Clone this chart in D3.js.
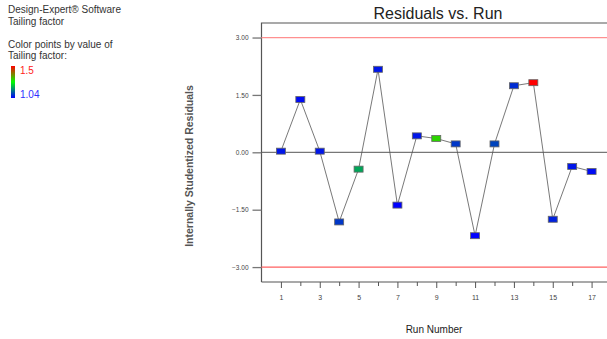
<!doctype html>
<html lang="en">
<head>
<meta charset="utf-8">
<title>Residuals vs. Run</title>
<style>
  body { margin: 0; background: #fff; }
  svg { display: block; font-family: "Liberation Sans", Arial, sans-serif; }
</style>
</head>
<body>
<svg width="607" height="339"></svg>
<script src="https://d3js.org/d3.v7.min.js"></script>
<script>
// run numbers, residuals and the tailing factor used to colour each point
var runs = [1, 2, 3, 4, 5, 6, 7, 8, 9, 10, 11, 12, 13, 14, 15, 16, 17];
var residuals = [0.03, 1.38, 0.03, -1.82, -0.44, 2.17, -1.38, 0.43, 0.36, 0.22, -2.18, 0.22, 1.74, 1.82, -1.75, -0.37, -0.50];
var tailing = [1.06, 1.05, 1.06, 1.09, 1.19, 1.06, 1.04, 1.06, 1.31, 1.09, 1.04, 1.10, 1.08, 1.50, 1.07, 1.06, 1.05];
var yTicks = [-3, -1.5, 0, 1.5, 3];
var xLabels = [1, 3, 5, 7, 9, 11, 13, 15, 17];
var limits = [-3, 3];
var legendLines = ["Design-Expert\u00ae Software", "Tailing factor", "", "Color points by value of", "Tailing factor:"];

var svg = d3.select("svg");

var x = d3.scaleLinear().domain([0, 18]).range([261.5, 611]);
var y = d3.scaleLinear().domain([-3.39, 3.38]).range([282, 23]);
var color = d3.scaleLinear().domain([1.04, 1.27, 1.5]).range(["#0000ff", "#00ff00", "#ff0000"]);

// legend at top left
svg.append("g").selectAll("text")
    .data(legendLines)
    .enter().append("text")
    .attr("x", 8)
    .attr("y", function(d, i) { return 13 + i * 11.5; })
    .attr("font-size", 10)
    .attr("fill", "#333")
    .text(function(d) { return d; });

var grad = svg.append("defs").append("linearGradient")
    .attr("id", "tf").attr("x1", 0).attr("y1", 0).attr("x2", 0).attr("y2", 1);
grad.append("stop").attr("offset", "0%").attr("stop-color", color(1.5));
grad.append("stop").attr("offset", "50%").attr("stop-color", color(1.27));
grad.append("stop").attr("offset", "100%").attr("stop-color", color(1.04));
svg.append("rect").attr("x", 11).attr("y", 66).attr("width", 4).attr("height", 32)
    .attr("fill", "url(#tf)");
svg.append("text").attr("x", 20).attr("y", 74).attr("font-size", 10).attr("fill", "#ff2020").text("1.5");
svg.append("text").attr("x", 20).attr("y", 98).attr("font-size", 10).attr("fill", "#3030ff").text("1.04");

// title
svg.append("text").attr("x", 438).attr("y", 19).attr("text-anchor", "middle")
    .attr("font-size", 16).attr("fill", "#222").text("Residuals vs. Run");

// frame: top and left lines
svg.append("path")
    .attr("d", "M607," + y.range()[1] + "H" + x.range()[0] + "V" + y.range()[0])
    .attr("fill", "none").attr("stroke", "#555").attr("stroke-width", 1.2);

// x axis
var xAxis = svg.append("g")
    .attr("transform", "translate(0," + y.range()[0] + ")")
    .call(d3.axisBottom(x).tickValues(d3.range(1, 18)).tickSize(5)
        .tickFormat(function(d) { return xLabels.indexOf(d) >= 0 ? d : ""; }));
xAxis.select(".domain").attr("d", "M" + x.range()[0] + ",0H607").attr("stroke", "#555").attr("stroke-width", 1.2);
xAxis.selectAll(".tick line").attr("stroke", "#555")
    .attr("y2", function(d) { return xLabels.indexOf(d) >= 0 ? 6 : 4; });
xAxis.selectAll(".tick text").attr("y", 13).attr("font-size", 7).attr("fill", "#444").attr("font-family", null);

// y axis
var yAxis = svg.append("g")
    .attr("transform", "translate(" + x.range()[0] + ",0)")
    .call(d3.axisLeft(y).tickValues(yTicks).tickSize(9).tickFormat(d3.format(".2f")));
yAxis.select(".domain").remove();
yAxis.selectAll(".tick line").attr("stroke", "#777").attr("stroke-width", 1.3);
yAxis.selectAll(".tick text").attr("x", -13).attr("font-size", 6.5).attr("fill", "#444").attr("font-family", null);

// axis titles
svg.append("text").attr("x", 434).attr("y", 333).attr("text-anchor", "middle")
    .attr("font-size", 10).attr("fill", "#222").text("Run Number");
svg.append("text")
    .attr("transform", "translate(193,166) rotate(-90)")
    .attr("text-anchor", "middle").attr("font-size", 10.5).attr("font-weight", "bold")
    .attr("fill", "#555").text("Internally Studentized Residuals");

// zero line and limit lines
svg.append("line").attr("x1", x.range()[0]).attr("x2", 607)
    .attr("y1", y(0)).attr("y2", y(0)).attr("stroke", "#555").attr("stroke-width", 1);
svg.selectAll(".limit").data(limits).enter().append("line")
    .attr("class", "limit")
    .attr("x1", x.range()[0]).attr("x2", 607)
    .attr("y1", function(d) { return y(d); }).attr("y2", function(d) { return y(d); })
    .attr("stroke", function(d) { return d > 0 ? "#ff9090" : "#ff6060"; }).attr("stroke-width", 1.2);

// connecting line
var pts = runs.map(function(r, i) { return [r, residuals[i], tailing[i]]; });
svg.append("path")
    .datum(pts)
    .attr("fill", "none").attr("stroke", "#555").attr("stroke-width", 0.8)
    .attr("d", d3.line().x(function(d) { return x(d[0]); }).y(function(d) { return y(d[1]); }));

// points
svg.selectAll(".pt").data(pts).enter().append("rect")
    .attr("class", "pt")
    .attr("x", function(d) { return x(d[0]) - 4.5; })
    .attr("y", function(d) { return y(d[1]) - 3; })
    .attr("width", 9).attr("height", 6)
    .attr("fill", function(d) { return color(d[2]); })
    .attr("stroke", "#666").attr("stroke-width", 0.8);
</script>
</body>
</html>
